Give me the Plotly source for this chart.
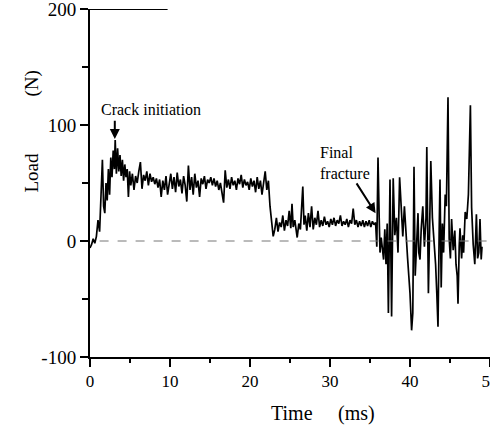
import plotly.graph_objects as go

# Time (ms) and load (N)
time_a = [0, 0.2, 0.4, 0.6, 0.8, 1.0, 1.2, 1.4, 1.55, 1.7, 1.85, 2.0, 2.15, 2.3, 2.45, 2.6, 2.75, 2.9, 3.05, 3.15,
          3.3, 3.45, 3.6, 3.75, 3.9, 4.05, 4.2, 4.35, 4.5, 4.65, 4.8, 4.95]
load_a = [-6, -3, 2, -2, 4, 18, 8, 45, 70, 30, 24, 50, 35, 62, 40, 72, 55, 78, 62, 87,
          58, 80, 60, 74, 56, 70, 52, 66, 55, 62, 38, 60]

time_b = [5.1, 5.3, 5.5, 5.7, 5.9, 6.1, 6.3, 6.5, 6.7, 6.9, 7.1, 7.3, 7.5, 7.7, 7.9, 8.1, 8.3, 8.5, 8.7, 8.9,
          9.1, 9.3, 9.5, 9.7, 9.9, 10.1, 10.3, 10.5, 10.7, 10.9, 11.1, 11.3, 11.5, 11.7, 11.9, 12.1, 12.3, 12.5,
          12.7, 12.9, 13.1, 13.3, 13.5, 13.7, 13.9, 14.1, 14.3, 14.5, 14.7, 14.9, 15.1, 15.3, 15.5, 15.7, 15.9,
          16.1, 16.3, 16.5, 16.7, 16.9, 17.1, 17.3, 17.5, 17.7, 17.9, 18.1, 18.3, 18.5, 18.7, 18.9, 19.1, 19.3,
          19.5, 19.7, 19.9, 20.1, 20.3, 20.5, 20.7, 20.9, 21.1, 21.3, 21.5, 21.7, 21.9, 22.1, 22.3, 22.5, 22.7, 22.9]
load_b = [48, 58, 44, 56, 50, 60, 68, 45, 57, 52, 60, 48, 58, 51, 55, 49, 54, 46, 53, 38,
          52, 44, 56, 40, 50, 58, 45, 55, 42, 59, 47, 53, 41, 56, 48, 34, 65, 44,
          55, 40, 58, 46, 52, 38, 54, 49, 56, 45, 53, 50, 55, 48, 54, 47, 52,
          44, 50, 40, 33, 61, 46, 53, 45, 55, 48, 52, 44, 54, 49, 57, 46, 53,
          48, 51, 44, 54, 47, 52, 42, 55, 45, 52, 40, 50, 60, 44, 52, 30, 18, 4]

time_c = [23.1, 23.3, 23.5, 23.7, 23.9, 24.1, 24.3, 24.5, 24.7, 24.9, 25.1, 25.25, 25.4, 25.6, 25.9, 26.1, 26.3,
          26.45, 26.6, 26.75, 26.9, 27.1, 27.3, 27.5, 27.7, 27.9, 28.1, 28.3, 28.5, 28.7, 28.9, 29.1, 29.3, 29.5,
          29.7, 29.9, 30.1, 30.3, 30.5, 30.7, 30.9, 31.1, 31.3, 31.5, 31.7, 31.9, 32.1, 32.3, 32.5, 32.7, 32.9,
          33.1, 33.3, 33.5, 33.7, 33.9, 34.1, 34.3, 34.5, 34.7, 34.9, 35.1, 35.3, 35.5, 35.7, 35.85, 36.0]
load_c = [10, 20, 8, 16, 12, 22, 9, 18, 13, 26, 11, 32, 12, 18, 3, 15, 10,
          28, 47, 14, 22, 9, 24, 12, 30, 10, 20, 14, 26, 12, 18, 13, 21, 14,
          17, 12, 19, 14, 20, 13, 18, 15, 22, 13, 17, 14, 19, 12, 18, 15, 28,
          14, 18, 12, 17, 13, 18, 12, 17, 13, 18, 12, 17, 14, 16, -5, 72]

time_d = [36.15, 36.25, 36.4, 36.55, 36.7, 36.85, 37.0, 37.15, 37.3, 37.5, 37.7, 37.9, 38.1, 38.3, 38.5, 38.7,
          38.9, 39.1, 39.3, 39.5, 39.7, 39.85, 40.0, 40.2, 40.35, 40.5, 40.65, 40.8, 41.0, 41.1, 41.25, 41.4,
          41.6, 41.8, 42.0, 42.1, 42.3, 42.45, 42.6, 42.8, 43.0, 43.2, 43.35, 43.5, 43.65, 43.75, 43.9, 44.05,
          44.2, 44.4, 44.55, 44.75, 44.9, 45.05, 45.2, 45.4, 45.6, 45.75, 45.9, 46.0, 46.15, 46.25, 46.45, 46.6,
          46.7, 46.9, 47.1, 47.3, 47.55, 47.7, 47.9, 48.1, 48.3, 48.45, 48.6, 48.75, 48.9, 49.0]
load_d = [20, -10, 3, -5, -16, 10, -20, 15, -62, 53, -65, 54, 5, 20, -10, 55,
          27, 4, 30, 2, -15, -30, -45, -77, -62, 64, -30, -7, 24, -10, -16, 10,
          30, -5, 20, 81, -45, 10, 69, 20, 2, -20, -45, -74, 10, 53, -40, 15,
          -10, 40, 30, 124, 2, -15, 19, -8, 9, -20, -30, -54, -5, 11, -15, 5,
          -10, 25, 19, 40, 117, 29, -3, -20, 23, -15, -10, 19, -16, -5]

time_ms = time_a + time_b + time_c + time_d
load_n = load_a + load_b + load_c + load_d

x_ticks = [0, 10, 20, 30, 40, 50]
y_ticks = [-100, 0, 100, 200]

FONT = "Liberation Serif"

fig = go.Figure()
fig.add_trace(go.Scatter(x=time_ms, y=load_n, mode="lines",
                         line=dict(color="black", width=1.7), showlegend=False,
                         hoverinfo="skip", cliponaxis=False))

# dashed zero line
fig.add_shape(type="line", x0=1.2, x1=50, y0=0, y1=0, xref="x", yref="y",
              line=dict(color="#777777", width=1, dash="dash"))
# partial top border
fig.add_shape(type="line", x0=0, x1=9.7, y0=200, y1=200, xref="x", yref="y",
              line=dict(color="black", width=2))

fig.add_annotation(x=3.1, y=88, xref="x", yref="y", ax=3.1, ay=105, axref="x", ayref="y",
                   showarrow=True, arrowhead=2, arrowsize=1, arrowwidth=2, arrowcolor="black",
                   text="")
fig.add_annotation(x=7.6, y=113, xref="x", yref="y", text="Crack initiation",
                   showarrow=False, font=dict(family=FONT, size=16, color="black"))

fig.add_annotation(x=35.7, y=24, xref="x", yref="y", ax=33.2, ay=51, axref="x", ayref="y",
                   showarrow=True, arrowhead=2, arrowsize=1, arrowwidth=2, arrowcolor="black",
                   text="")
fig.add_annotation(x=28.5, y=67, xref="x", yref="y", text="Final<br>fracture",
                   showarrow=False, align="left", xanchor="left",
                   font=dict(family=FONT, size=16, color="black"))

# axis titles (split words as in the reference)
fig.add_annotation(x=25.3, y=-0.161, xref="x", yref="paper", text="Time",
                   showarrow=False, yanchor="middle", font=dict(family=FONT, size=20, color="black"))
fig.add_annotation(x=33.25, y=-0.161, xref="x", yref="paper", text="(ms)",
                   showarrow=False, yanchor="middle", font=dict(family=FONT, size=20, color="black"))
fig.add_annotation(x=-0.1775, y=58.6, xref="paper", yref="y", text="Load",
                   showarrow=False, textangle=-90, font=dict(family=FONT, size=19, color="black"))
fig.add_annotation(x=-0.1775, y=135.8, xref="paper", yref="y", text="(N)",
                   showarrow=False, textangle=-90, font=dict(family=FONT, size=19, color="black"))

fig.update_xaxes(range=[0, 50], tickvals=x_ticks, ticktext=[str(v) for v in x_ticks],
                 automargin=False, ticklabeloverflow="allow",
                 showgrid=False, zeroline=False, showline=True, linecolor="black", linewidth=2,
                 ticks="outside", ticklen=8, tickwidth=2, tickcolor="black",
                 minor=dict(ticks="outside", dtick=5, ticklen=4, tickwidth=1.5, tickcolor="black"),
                 tickfont=dict(family=FONT, size=17, color="black"))
fig.update_yaxes(range=[-100, 200], tickvals=y_ticks, ticktext=[str(v) for v in y_ticks],
                 automargin=False, ticklabeloverflow="allow",
                 showgrid=False, zeroline=False, showline=True, linecolor="black", linewidth=2,
                 ticks="outside", ticklen=8, tickwidth=2, tickcolor="black",
                 minor=dict(ticks="outside", dtick=50, ticklen=6, tickwidth=1.5, tickcolor="black"),
                 tickfont=dict(family=FONT, size=19, color="black"))

fig.update_layout(width=490, height=431, margin=dict(l=90, r=0, t=9, b=74, autoexpand=False),
                  plot_bgcolor="white", paper_bgcolor="white")

fig.write_html("out.html", config={"displayModeBar": False},
               post_script="document.body.style.margin='0';document.body.style.overflow='hidden';")
